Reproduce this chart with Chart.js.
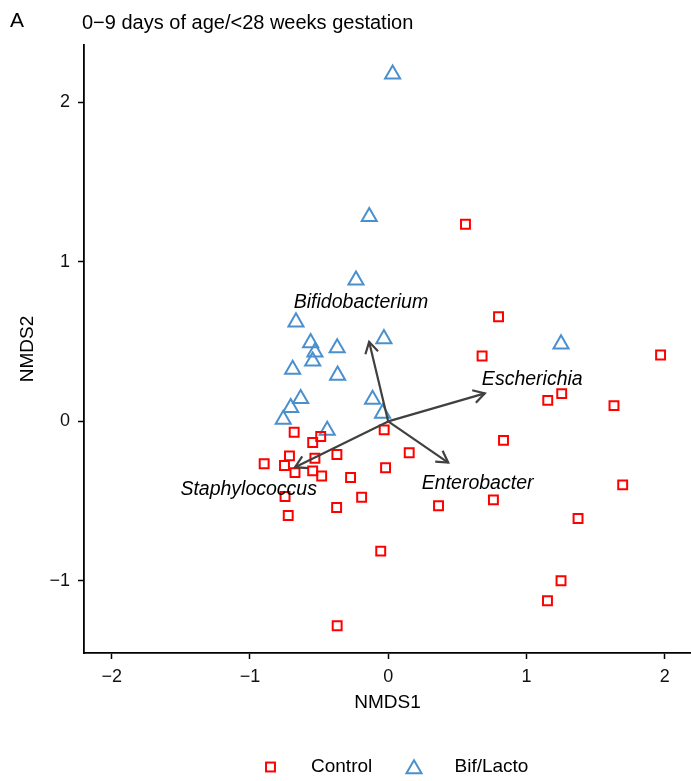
<!DOCTYPE html>
<html>
<head>
<meta charset="utf-8">
<script src="https://cdn.jsdelivr.net/npm/chart.js@4/dist/chart.umd.min.js"></script>
<style>
  html, body { margin: 0; padding: 0; background: #ffffff; }
  canvas { display: block; }
</style>
</head>
<body>
<canvas id="nmds" width="691" height="781"></canvas>
<script>
// NMDS ordination scores, one pair of arrays per group
const controlX = [0.559, 0.798, 0.679, 1.970, 1.154, 1.255, 1.633, 0.834, -0.029, -0.680,
                  -0.488, -0.546, 0.152, -0.371, -0.714, -0.530, -0.897, -0.750, -0.019, -0.674,
                  -0.546, -0.481, -0.272, -0.192, -0.746, -0.373, -0.723, 0.364, 0.761, 1.696,
                  1.373, -0.054, 1.250, 1.152, -0.369];
const controlY = [1.236, 0.656, 0.410, 0.416, 0.132, 0.174, 0.099, -0.119, -0.053, -0.068,
                  -0.095, -0.132, -0.196, -0.207, -0.216, -0.231, -0.265, -0.276, -0.291, -0.321,
                  -0.310, -0.342, -0.352, -0.475, -0.471, -0.540, -0.590, -0.529, -0.492, -0.398,
                  -0.609, -0.813, -0.999, -1.124, -1.281];

const bifLactoX = [0.032, -0.137, -0.233, -0.667, -0.031, -0.561, -0.369, -0.530, -0.546,
                   -0.691, -0.366, -0.113, -0.633, -0.705, -0.041, -0.759, -0.441, 1.250];
const bifLactoY = [2.177, 1.284, 0.885, 0.623, 0.518, 0.493, 0.461, 0.434, 0.378,
                   0.326, 0.289, 0.138, 0.142, 0.086, 0.051, 0.013, -0.056, 0.485];

// Fitted taxa vectors (arrow tips) and where their names sit
const taxa   = ['Bifidobacterium', 'Escherichia', 'Enterobacter', 'Staphylococcus'];
const arrowX = [-0.138, 0.699, 0.434, -0.674];
const arrowY = [0.499, 0.176, -0.258, -0.287];
const taxonLabelX = [-0.197, 1.042, 0.647, -1.009];
const taxonLabelY = [0.748, 0.260, -0.387, -0.429];

// Axes
const xTicks = [-2, -1, 0, 1, 2];
const yTicks = [-1, 0, 1, 2];
const xTitle = 'NMDS1';
const yTitle = 'NMDS2';

const panelTag = 'A';
const panelTitle = '0\u22129 days of age/<28 weeks gestation';
const groupNames = ['Control', 'Bif/Lacto'];

const FONT = '"Liberation Sans", Arial, Helvetica, sans-serif';
const RED = '#ff0000';
const BLUE = '#4a90ce';
const ARROW = '#404040';

const toPoints = (xs, ys) => xs.map((x, i) => ({ x: x, y: ys[i] }));
const minusSign = v => String(v).replace('-', '\u2212');

// Draws the panel tag and title above the plot
const headerPlugin = {
  id: 'header',
  afterDraw(chart) {
    const ctx = chart.ctx;
    ctx.save();
    ctx.fillStyle = '#000';
    ctx.textAlign = 'left';
    ctx.textBaseline = 'alphabetic';
    ctx.font = '21px ' + FONT;
    ctx.fillText(panelTag, 10, 27);
    ctx.font = '20px ' + FONT;
    ctx.fillText(panelTitle, 82, 28.5);
    ctx.restore();
  }
};

// Draws taxa vectors from the origin with open arrowheads, plus their names
const vectorPlugin = {
  id: 'vectors',
  afterDatasetsDraw(chart) {
    const ctx = chart.ctx;
    const xs = chart.scales.x, ys = chart.scales.y;
    const ox = xs.getPixelForValue(0), oy = ys.getPixelForValue(0);
    ctx.save();
    ctx.strokeStyle = ARROW;
    ctx.lineWidth = 2.2;
    ctx.lineCap = 'butt';
    ctx.lineJoin = 'miter';
    const head = 13, spread = Math.PI / 6;
    for (let i = 0; i < taxa.length; i++) {
      const tx = xs.getPixelForValue(arrowX[i]);
      const ty = ys.getPixelForValue(arrowY[i]);
      const ang = Math.atan2(ty - oy, tx - ox);
      ctx.beginPath();
      ctx.moveTo(ox, oy);
      ctx.lineTo(tx, ty);
      ctx.stroke();
      ctx.beginPath();
      ctx.moveTo(tx - head * Math.cos(ang - spread), ty - head * Math.sin(ang - spread));
      ctx.lineTo(tx, ty);
      ctx.lineTo(tx - head * Math.cos(ang + spread), ty - head * Math.sin(ang + spread));
      ctx.stroke();
    }
    ctx.fillStyle = '#000';
    ctx.font = 'italic 19.5px ' + FONT;
    ctx.textAlign = 'center';
    ctx.textBaseline = 'middle';
    for (let i = 0; i < taxa.length; i++) {
      ctx.fillText(taxa[i], xs.getPixelForValue(taxonLabelX[i]), ys.getPixelForValue(taxonLabelY[i]));
    }
    ctx.restore();
  }
};

// Legend row under the x-axis title
const legendPlugin = {
  id: 'groupLegend',
  afterDraw(chart) {
    const ctx = chart.ctx;
    const cy = 767;
    ctx.save();
    ctx.lineWidth = 2;
    // square marker
    ctx.strokeStyle = RED;
    const h = 6.3 * Math.SQRT1_2;
    ctx.strokeRect(270.5 - h, cy - h, 2 * h, 2 * h);
    // triangle marker
    ctx.strokeStyle = BLUE;
    const r = 8.7, tx = 414, ty = cy + 2;
    ctx.beginPath();
    ctx.moveTo(tx, ty - r);
    ctx.lineTo(tx + r * Math.sin(2 * Math.PI / 3), ty - r * Math.cos(2 * Math.PI / 3));
    ctx.lineTo(tx + r * Math.sin(4 * Math.PI / 3), ty - r * Math.cos(4 * Math.PI / 3));
    ctx.closePath();
    ctx.stroke();
    ctx.fillStyle = '#000';
    ctx.font = '19px ' + FONT;
    ctx.textAlign = 'left';
    ctx.textBaseline = 'middle';
    ctx.fillText(groupNames[0], 311, cy);
    ctx.fillText(groupNames[1], 454.5, cy);
    ctx.restore();
  }
};

new Chart(document.getElementById('nmds'), {
  type: 'scatter',
  data: {
    datasets: [
      {
        label: groupNames[0],
        data: toPoints(controlX, controlY),
        pointStyle: 'rect',
        pointRadius: 6.3,
        pointHoverRadius: 6.3,
        borderColor: RED,
        backgroundColor: 'rgba(0,0,0,0)',
        borderWidth: 2,
        pointBorderWidth: 2
      },
      {
        label: groupNames[1],
        data: toPoints(bifLactoX, bifLactoY),
        pointStyle: 'triangle',
        pointRadius: 8.7,
        pointHoverRadius: 8.7,
        borderColor: BLUE,
        backgroundColor: 'rgba(0,0,0,0)',
        borderWidth: 2,
        pointBorderWidth: 2
      }
    ]
  },
  options: {
    responsive: false,
    animation: false,
    events: [],
    layout: { autoPadding: false, padding: { top: 45, left: 0, right: 0, bottom: 0 } },
    plugins: {
      legend: { display: false },
      tooltip: { enabled: false },
      title: { display: false }
    },
    scales: {
      x: {
        type: 'linear',
        min: -2.2,
        max: 2.19,
        afterBuildTicks: s => { s.ticks = xTicks.map(v => ({ value: v })); },
        afterFit: s => { s.height = 128; s.paddingLeft = 0; s.paddingRight = 0; },
        grid: { display: true, drawOnChartArea: false, drawTicks: true, tickLength: 6, tickWidth: 1.5, tickColor: '#000' },
        border: { display: true, color: '#000', width: 1.8 },
        ticks: {
          color: '#111',
          font: { family: FONT, size: 18 },
          padding: 7,
          maxRotation: 0,
          autoSkip: false,
          callback: v => minusSign(v)
        },
        title: {
          display: true,
          text: xTitle,
          color: '#000',
          font: { family: FONT, size: 19 },
          padding: { top: 0, bottom: 66.6 }
        }
      },
      y: {
        type: 'linear',
        min: -1.452,
        max: 2.36,
        afterBuildTicks: s => { s.ticks = yTicks.map(v => ({ value: v })); },
        afterFit: s => { s.width = 84; s.paddingTop = 0; s.paddingBottom = 0; },
        grid: { display: true, drawOnChartArea: false, drawTicks: true, tickLength: 6, tickWidth: 1.5, tickColor: '#000' },
        border: { display: true, color: '#000', width: 1.8 },
        ticks: {
          color: '#111',
          font: { family: FONT, size: 18 },
          padding: 8,
          autoSkip: false,
          callback: v => minusSign(v)
        },
        title: {
          display: true,
          text: yTitle,
          color: '#000',
          font: { family: FONT, size: 19 },
          padding: { top: 16, bottom: 0 }
        }
      }
    }
  },
  plugins: [headerPlugin, vectorPlugin, legendPlugin]
});
</script>
</body>
</html>
